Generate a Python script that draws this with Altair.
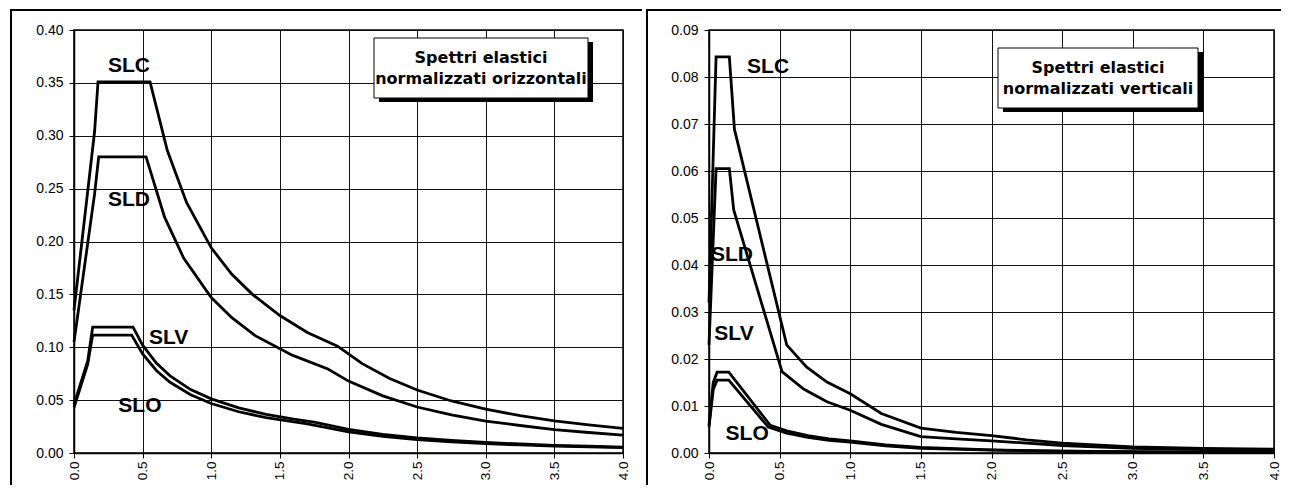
import altair as alt
import pandas as pd

# ---------------- Horizontal normalized elastic spectra (left panel) ----------------
h_slc_t = [0.0, 0.15, 0.175, 0.554, 0.68, 0.82, 1.0, 1.15, 1.3, 1.5, 1.7, 1.92, 2.1, 2.3, 2.5, 2.75, 3.0, 3.25, 3.5, 3.75, 4.0]
h_slc_v = [0.135, 0.304, 0.351, 0.351, 0.286, 0.237, 0.194, 0.169, 0.150, 0.130, 0.114, 0.101, 0.0845, 0.0704, 0.0596, 0.0492, 0.0414, 0.0353, 0.0304, 0.0265, 0.0233]

h_sld_t = [0.0, 0.15, 0.18, 0.525, 0.66, 0.8, 1.0, 1.15, 1.32, 1.59, 1.85, 2.0, 2.25, 2.5, 2.75, 3.0, 3.25, 3.5, 3.75, 4.0]
h_sld_v = [0.105, 0.245, 0.28, 0.28, 0.223, 0.184, 0.147, 0.128, 0.111, 0.0925, 0.0795, 0.068, 0.054, 0.0435, 0.036, 0.0302, 0.026, 0.0222, 0.0194, 0.017]

h_slv_t = [0.0, 0.10, 0.136, 0.43, 0.5, 0.6, 0.7, 0.85, 1.0, 1.2, 1.4, 1.6, 1.75, 2.0, 2.25, 2.5, 2.75, 3.0, 3.25, 3.5, 3.75, 4.0]
h_slv_v = [0.046, 0.087, 0.119, 0.119, 0.102, 0.085, 0.073, 0.060, 0.0512, 0.0426, 0.0366, 0.032, 0.0293, 0.0224, 0.0177, 0.0143, 0.0119, 0.0100, 0.0085, 0.0073, 0.0064, 0.0056]

h_slo_t = [0.0, 0.10, 0.136, 0.42, 0.5, 0.6, 0.7, 0.85, 1.0, 1.2, 1.4, 1.7, 2.0, 2.25, 2.5, 2.75, 3.0, 3.25, 3.5, 3.75, 4.0]
h_slo_v = [0.043, 0.084, 0.1115, 0.1115, 0.0937, 0.078, 0.0669, 0.0551, 0.0468, 0.039, 0.0334, 0.0275, 0.0199, 0.0157, 0.0127, 0.0105, 0.0088, 0.0076, 0.0065, 0.0057, 0.005]

# ---------------- Vertical normalized elastic spectra (right panel) ----------------
v_slc_t = [0.0, 0.05, 0.144, 0.18, 0.55, 0.69, 0.835, 1.0, 1.22, 1.5, 1.75, 2.0, 2.25, 2.5, 3.0, 3.5, 4.0]
v_slc_v = [0.032, 0.0843, 0.0843, 0.0689, 0.023, 0.0183, 0.0151, 0.0126, 0.0084, 0.0053, 0.0044, 0.0037, 0.0028, 0.0021, 0.0013, 0.0010, 0.0008]

v_sld_t = [0.0, 0.05, 0.144, 0.175, 0.517, 0.67, 0.835, 1.0, 1.22, 1.5, 1.75, 2.0, 2.5, 3.0, 3.5, 4.0]
v_sld_v = [0.023, 0.0605, 0.0605, 0.0517, 0.0173, 0.0136, 0.0109, 0.0091, 0.0061, 0.0035, 0.0030, 0.0026, 0.0016, 0.0010, 0.00074, 0.00057]

v_slv_t = [0.0, 0.03, 0.057, 0.14, 0.434, 0.55, 0.7, 0.85, 1.0, 1.25, 1.5, 2.0, 2.5, 3.0, 3.5, 4.0]
v_slv_v = [0.006, 0.015, 0.0172, 0.0172, 0.0059, 0.0047, 0.0037, 0.0030, 0.0026, 0.0017, 0.0012, 0.00065, 0.0004, 0.0003, 0.0002, 0.00016]

v_slo_t = [0.0, 0.03, 0.057, 0.14, 0.42, 0.55, 0.7, 0.85, 1.0, 1.25, 1.5, 2.0, 2.5, 3.0, 3.5, 4.0]
v_slo_v = [0.0055, 0.0135, 0.0155, 0.0155, 0.0055, 0.0042, 0.0033, 0.0027, 0.0023, 0.0015, 0.0010, 0.0006, 0.00037, 0.00026, 0.00019, 0.00014]

# curve labels (placed in data coordinates)
curve_names = ["SLC", "SLD", "SLV", "SLO"]
h_label_t = [0.40, 0.40, 0.69, 0.48]
h_label_v = [0.366, 0.239, 0.109, 0.044]
v_label_t = [0.418, 0.163, 0.177, 0.27]
v_label_v = [0.0822, 0.0422, 0.0254, 0.004]

x_ticks = [0.0, 0.5, 1.0, 1.5, 2.0, 2.5, 3.0, 3.5, 4.0]
h_y_ticks = [0.0, 0.05, 0.10, 0.15, 0.20, 0.25, 0.30, 0.35, 0.40]
v_y_ticks = [0.0, 0.01, 0.02, 0.03, 0.04, 0.05, 0.06, 0.07, 0.08, 0.09]


def long_df(series):
    rows = []
    for name, ts, vs in series:
        for i, (t, v) in enumerate(zip(ts, vs)):
            rows.append({"curve": name, "i": i, "T": t, "Se": v})
    return pd.DataFrame(rows)


h_df = long_df([("SLC", h_slc_t, h_slc_v), ("SLD", h_sld_t, h_sld_v),
                ("SLV", h_slv_t, h_slv_v), ("SLO", h_slo_t, h_slo_v)])
v_df = long_df([("SLC", v_slc_t, v_slc_v), ("SLD", v_sld_t, v_sld_v),
                ("SLV", v_slv_t, v_slv_v), ("SLO", v_slo_t, v_slo_v)])
h_lab = pd.DataFrame({"name": curve_names, "T": h_label_t, "Se": h_label_v})
v_lab = pd.DataFrame({"name": curve_names, "T": v_label_t, "Se": v_label_v})
one = pd.DataFrame({"a": [0]})

FONT = "Liberation Sans"


def panel(df, lab, ymax, yticks, width, height, title2, box, frame):
    xs = alt.Scale(domain=[0, 4], nice=False, zero=False)
    ys = alt.Scale(domain=[0, ymax], nice=False, zero=False)
    xax = alt.Axis(values=x_ticks, format=".1f", labelAngle=270, title=None,
                   grid=True, gridColor="#111", gridWidth=1, tickSize=5, tickColor="black",
                   domainColor="black", domainWidth=1.5, labelPadding=3,
                   labelFont=FONT, labelFontSize=13.5, labelColor="black")
    yax = alt.Axis(values=yticks, format=".2f", title=None,
                   grid=True, gridColor="#111", gridWidth=1, tickSize=5, tickColor="black",
                   domainColor="black", domainWidth=1.5, labelPadding=6,
                   labelFont=FONT, labelFontSize=14, labelColor="black")
    lines = alt.Chart(df).mark_line(color="black", strokeWidth=2.8).encode(
        x=alt.X("T:Q", scale=xs, axis=xax),
        y=alt.Y("Se:Q", scale=ys, axis=yax),
        detail="curve:N",
        order="i:Q",
    )
    labels = alt.Chart(lab).mark_text(font=FONT, fontWeight="bold", fontSize=21,
                                      color="black", baseline="middle", align="center").encode(
        x=alt.X("T:Q", scale=xs), y=alt.Y("Se:Q", scale=ys), text="name:N")

    bx0, by0, bx1, by1 = box
    shadow = alt.Chart(one).mark_rect(fill="black").encode(
        x=alt.value(bx0 + 5), x2=alt.value(bx1 + 5), y=alt.value(by0 + 4), y2=alt.value(by1 + 4))
    rect = alt.Chart(one).mark_rect(fill="white", stroke="black", strokeWidth=1).encode(
        x=alt.value(bx0), x2=alt.value(bx1), y=alt.value(by0), y2=alt.value(by1))
    cx = (bx0 + bx1) / 2
    t1 = alt.Chart(one).mark_text(font="DejaVu Sans", fontWeight="bold", fontSize=16,
                                  color="black", baseline="middle").encode(
        x=alt.value(cx), y=alt.value(by0 + 20), text=alt.value("Spettri elastici"))
    t2 = alt.Chart(one).mark_text(font="DejaVu Sans", fontWeight="bold", fontSize=16,
                                  color="black", baseline="middle").encode(
        x=alt.value(cx), y=alt.value(by0 + 41), text=alt.value(title2))

    fx0, fx1, vx = frame
    top_rule = alt.Chart(one).mark_rule(color="black", strokeWidth=2).encode(
        x=alt.value(fx0), x2=alt.value(fx1), y=alt.value(-20))
    v_rule = alt.Chart(one).mark_rule(color="black", strokeWidth=2).encode(
        x=alt.value(vx), y=alt.value(-20), y2=alt.value(455))

    return alt.layer(lines, labels, shadow, rect, t1, t2, top_rule, v_rule).properties(
        width=width, height=height)


left = panel(h_df, h_lab, 0.40, h_y_ticks, 549, 423, "normalizzati orizzontali",
             (300, 8, 514, 68), (-64, 568, -63))
right = panel(v_df, v_lab, 0.09, v_y_ticks, 565, 423, "normalizzati verticali",
              (289, 18, 489, 78), (-63, 572, -62))

chart = alt.hconcat(left, right, spacing=0).properties(
    padding=0, background="white"
).configure_view(stroke="black", strokeWidth=1.5)

chart.save("out.html", embed_options={"renderer": "svg", "actions": False})
